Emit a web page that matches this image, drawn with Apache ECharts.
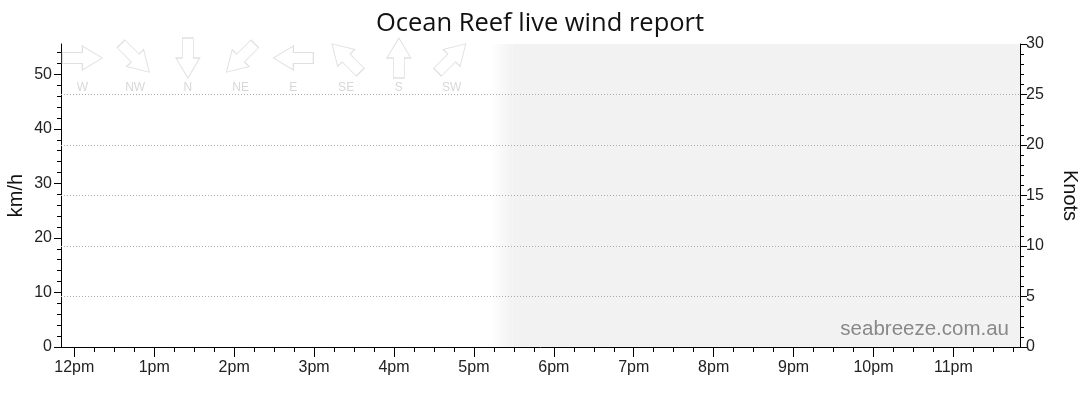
<!DOCTYPE html>
<html>
<head>
<meta charset="utf-8">
<script src="https://cdn.jsdelivr.net/npm/echarts@6/dist/echarts.min.js"></script>
<style>
  html, body { margin: 0; padding: 0; background: #fff; }
  #chart { width: 1080px; height: 414px; }
</style>
</head>
<body>
<div id="chart"></div>
<script>
// times are minutes after midnight
const toMin = s => { const [h, m] = s.split(':').map(Number); return h * 60 + m; };

const dayStart = toMin('11:50');
const dayEnd = toMin('23:50');
const fadeStart = toMin('17:13');   // "now" marker, grey begins fading in
const fadeEnd = toMin('17:29');

const windKmh = [];   // no observations shown yet
const KNOTS_MAX = 30;
const KMH_PER_KNOT = 1.852;

const hourTicks = ['12:00', '13:00', '14:00', '15:00', '16:00', '17:00',
  '18:00', '19:00', '20:00', '21:00', '22:00', '23:00'].map(toMin);
const quarterTicks = [];
hourTicks.forEach(h => quarterTicks.push(h, h + 15, h + 30, h + 45));

const kmhTicks = [0, 10, 20, 30, 40, 50];
const kmhMinorTicks = [];
kmhTicks.forEach(v => kmhMinorTicks.push(v, v + 2, v + 4, v + 6, v + 8));

const dirLabels = ['W', 'NW', 'N', 'NE', 'E', 'SE', 'S', 'SW'];
const dirRotations = [0, -45, -90, -135, 180, 135, 90, 45];

const arrowPath = 'path://M0,6.5 L20,6.5 L20,0 L40,12 L20,24 L20,17.5 L0,17.5 Z';
const labelFont = 'Liberation Sans, Arial, sans-serif';

const hourLabel = v => {
  if (v % 60 !== 0) return '';
  const h = Math.round(v / 60) % 24;
  return (h % 12 || 12) + (h < 12 ? 'am' : 'pm');
};

const chart = echarts.init(document.getElementById('chart'));

chart.setOption({
  animation: false,
  title: {
    text: 'Ocean Reef live wind report',
    left: 'center',
    top: 6,
    textStyle: { fontFamily: 'Open Sans', fontSize: 25.5, fontWeight: 'normal', color: '#111' },
  },
  grid: [
    { left: 61, right: 60, top: 44, bottom: 67, containLabel: false, outerBoundsMode: 'none' },
    { left: 56, width: 422, top: 40, height: 36, containLabel: false, outerBoundsMode: 'none' },
  ],
  xAxis: [{
    type: 'value',
    gridIndex: 0,
    min: dayStart,
    max: dayEnd,
    minInterval: 60,
    maxInterval: 60,
    axisLine: { lineStyle: { color: '#000' } },
    axisTick: { length: 10, customValues: hourTicks, lineStyle: { color: '#000' } },
    axisLabel: { formatter: hourLabel, customValues: hourTicks, color: '#222', fontSize: 16, margin: 13, fontFamily: labelFont },
    splitLine: { show: false },
  }, {
    // quarter hour ticks
    type: 'value',
    gridIndex: 0,
    position: 'bottom',
    min: dayStart,
    max: dayEnd,
    minInterval: 15,
    maxInterval: 15,
    axisLine: { show: false },
    axisTick: { length: 5, customValues: quarterTicks, lineStyle: { color: '#000' } },
    axisLabel: { show: false },
    splitLine: { show: false },
  }, {
    type: 'category',
    gridIndex: 1,
    data: dirLabels,
    axisLine: { show: false },
    axisTick: { show: false },
    axisLabel: { color: '#d8d8d8', fontSize: 12, margin: 6, fontFamily: labelFont },
  }],
  yAxis: [{
    type: 'value',
    gridIndex: 0,
    position: 'left',
    min: 0,
    max: KNOTS_MAX * KMH_PER_KNOT,
    minInterval: 10,
    maxInterval: 10,
    name: 'km/h',
    nameLocation: 'middle',
    nameGap: 35,
    nameMoveOverlap: false,
    nameTextStyle: { fontFamily: labelFont, fontSize: 20, color: '#111' },
    axisLine: { show: true, lineStyle: { color: '#000' } },
    axisTick: { length: 7, customValues: kmhTicks, lineStyle: { color: '#000' } },
    axisLabel: { customValues: kmhTicks, color: '#222', fontSize: 16, margin: 9, fontFamily: labelFont },
    splitLine: { show: false },
  }, {
    type: 'value',
    gridIndex: 0,
    position: 'right',
    z: 3,
    min: 0,
    max: KNOTS_MAX,
    interval: 5,
    name: 'Knots',
    nameLocation: 'middle',
    nameRotate: -90,
    nameGap: 40,
    nameTextStyle: { fontFamily: labelFont, fontSize: 20, color: '#111' },
    axisLine: { show: true, lineStyle: { color: '#000' } },
    axisTick: { length: 7, lineStyle: { color: '#000' } },
    minorTick: { show: true, splitNumber: 5, length: 4, lineStyle: { color: '#000' } },
    axisLabel: { color: '#222', fontSize: 16, margin: 6, fontFamily: labelFont },
    splitLine: { show: true, showMinLine: false, showMaxLine: false, lineStyle: { color: '#aaa', type: [1, 2], width: 1 } },
  }, {
    // 2 km/h minor ticks
    type: 'value',
    gridIndex: 0,
    position: 'left',
    min: 0,
    max: KNOTS_MAX * KMH_PER_KNOT,
    minInterval: 2,
    maxInterval: 2,
    axisLine: { show: false },
    axisTick: { length: 4, customValues: kmhMinorTicks, lineStyle: { color: '#000' } },
    axisLabel: { show: false },
    splitLine: { show: false },
  }, {
    type: 'value',
    gridIndex: 1,
    min: 0,
    max: 1,
    show: false,
  }],
  graphic: [{
    type: 'text',
    right: 71,
    bottom: 74,
    style: { text: 'seabreeze.com.au', fill: '#888', font: '20.5px ' + labelFont },
  }],
  series: [{
    name: 'Wind',
    type: 'line',
    xAxisIndex: 0,
    yAxisIndex: 0,
    data: windKmh,
    markArea: {
      silent: true,
      z: -1,
      data: [
        [{
          xAxis: fadeStart,
          itemStyle: {
            color: new echarts.graphic.LinearGradient(0, 0, 1, 0, [
              { offset: 0, color: '#ffffff' },
              { offset: 1, color: '#f2f2f2' },
            ]),
          },
        }, { xAxis: fadeEnd }],
        [{ xAxis: fadeEnd, itemStyle: { color: '#f2f2f2' } }, { xAxis: dayEnd }],
      ],
    },
  }, {
    name: 'Directions',
    type: 'scatter',
    xAxisIndex: 2,
    yAxisIndex: 3,
    silent: true,
    symbol: arrowPath,
    symbolSize: [40, 24],
    itemStyle: { color: 'rgba(0,0,0,0)', borderColor: '#d8d8d8', borderWidth: 1 },
    data: dirLabels.map((d, i) => ({ value: [d, 0.5], symbolRotate: dirRotations[i] })),
  }],
});
</script>
</body>
</html>
